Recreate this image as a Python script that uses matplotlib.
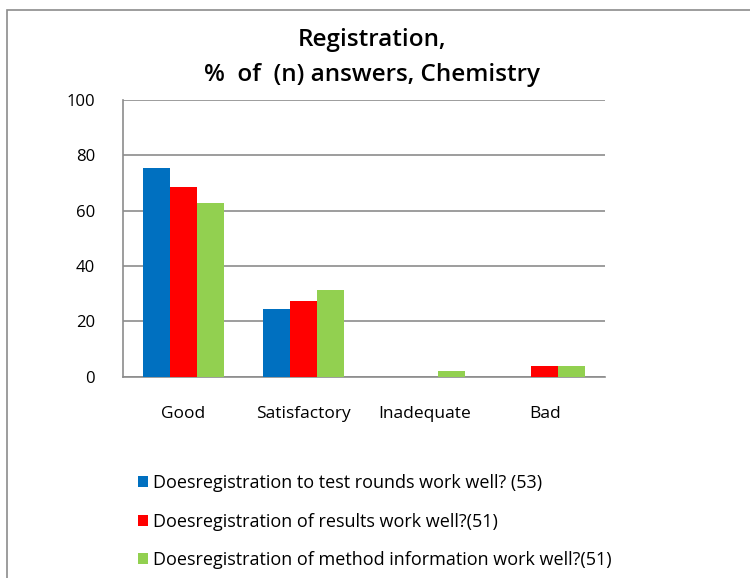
import numpy as np
import matplotlib.pyplot as plt
from matplotlib.patches import Rectangle

# datos (% de respuestas)
categories = ['Good', 'Satisfactory', 'Inadequate', 'Bad']
series_names = ['Doesregistration to test rounds work well? (53)',
                'Doesregistration of results work well?(51)',
                'Doesregistration of method information work well?(51)']
test_rounds = [75.5, 24.5, 0.0, 0.0]
results = [68.6, 27.5, 0.0, 3.9]
method_info = [62.7, 31.4, 2.0, 3.9]
colors = ['#0070C0', '#FF0000', '#92D050']

plt.rcParams['font.family'] = ['Open Sans', 'DejaVu Sans']

fig = plt.figure(figsize=(7.5, 5.78), dpi=100)
ax = fig.add_axes([0.164, 0.348, 0.643, 0.479])

# marco exterior del grafico
fig.patches.append(Rectangle((7 / 750, -0.1), 1.2, 1 - 10 / 578 + 0.1,
                             transform=fig.transFigure, fill=False,
                             edgecolor='#8c8c8c', linewidth=1.2))

x = np.arange(len(categories))
w = 0.224
for i, vals in enumerate([test_rounds, results, method_info]):
    ax.bar(x + (i - 1) * w, vals, width=w, color=colors[i],
           label=series_names[i], zorder=3)

ax.set_xlim(-0.5, len(categories) - 0.5)
ax.set_ylim(0, 100)
ax.set_yticks(range(0, 101, 20))
ax.set_xticks(x)
ax.set_xticklabels(categories, fontsize=12.5)
ax.tick_params(axis='y', length=0, pad=20, labelsize=12)
ax.tick_params(axis='x', length=0, pad=21)
ax.grid(axis='y', color='#8c8c8c', linewidth=1.2, zorder=0)
for s in ['top', 'right']:
    ax.spines[s].set_visible(False)
ax.spines['left'].set_color('#8c8c8c')
ax.spines['bottom'].set_color('#8c8c8c')
ax.spines['left'].set_linewidth(1.2)
ax.spines['bottom'].set_linewidth(1.2)

fig.text(0.496, 0.931, 'Registration,', ha='center', va='center',
         fontsize=17.5, fontweight='semibold')
fig.text(0.496, 0.871, '%  of  (n) answers, Chemistry', ha='center', va='center',
         fontsize=17.5, fontweight='semibold')

fig.legend(loc='upper left', bbox_to_anchor=(0.172, 0.196), frameon=False,
           fontsize=13, labelspacing=1.15, handlelength=0.55, handleheight=0.55,
           handletextpad=0.3, borderpad=0)

fig.savefig('out.png', dpi=100)
